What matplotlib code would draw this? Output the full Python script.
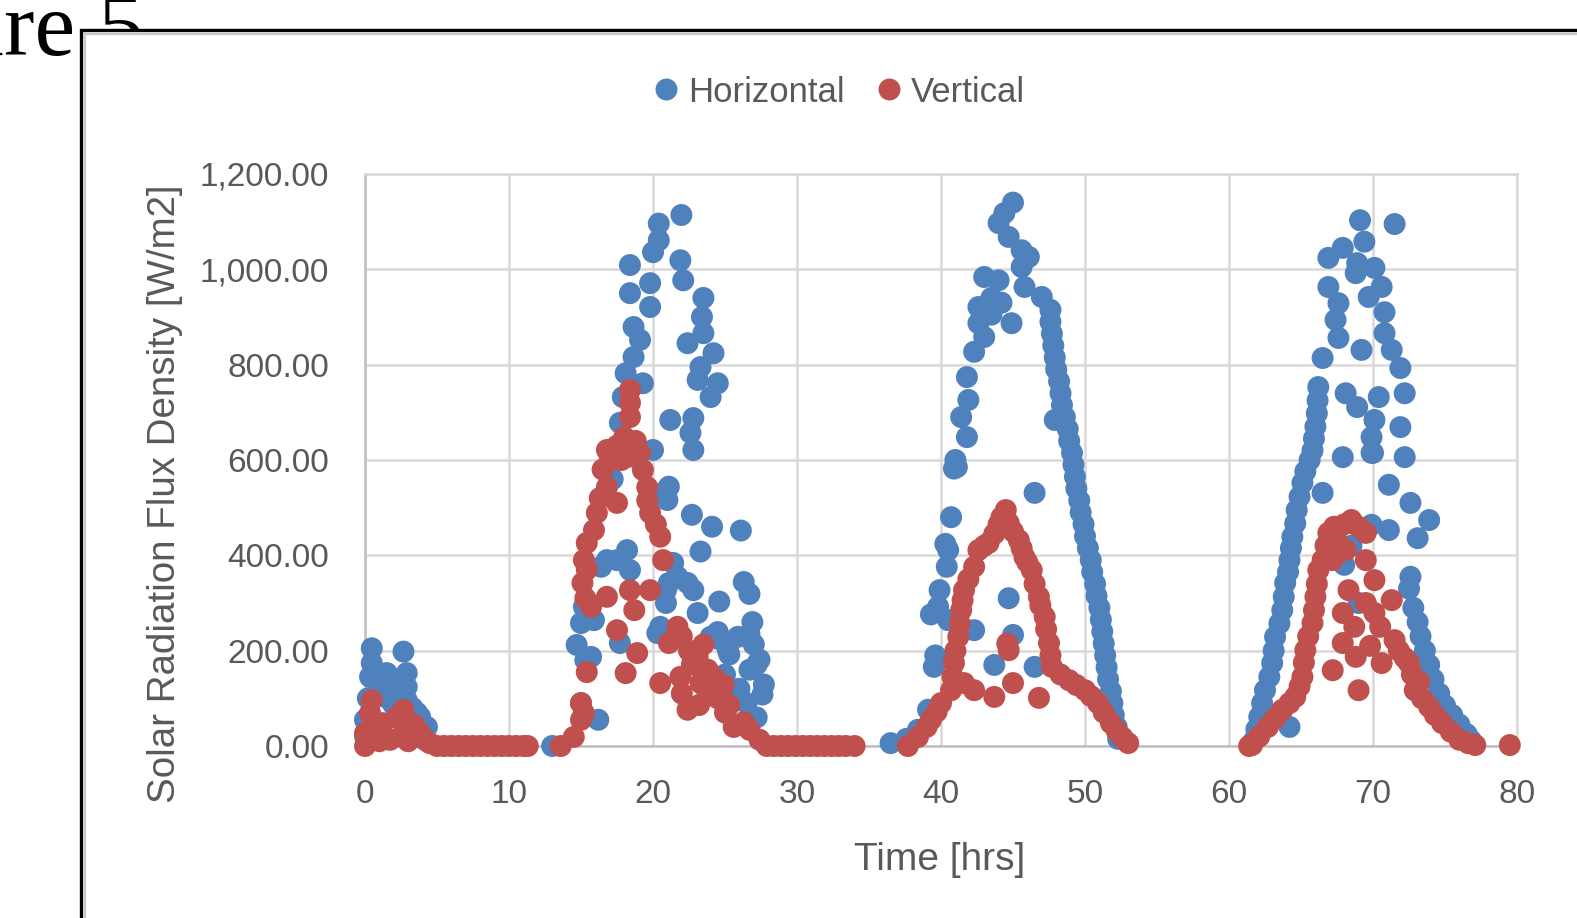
import matplotlib
matplotlib.use('Agg')
import matplotlib.pyplot as plt
import numpy as np
from matplotlib.ticker import FuncFormatter
from matplotlib.patches import Rectangle
from matplotlib.lines import Line2D

# ---------------- data (time [hrs], flux [W/m2]) ----------------
horiz_day1 = [(0.0, 20), (0.0, 55), (0.2, 100), (0.47, 205), (0.47, 174), (0.35, 145), (0.8, 150),
              (1.0, 130), (1.25, 124), (1.51, 153), (1.6, 100), (1.95, 88), (2.2, 130), (2.3, 110),
              (2.67, 198), (2.9, 153), (2.9, 124), (2.9, 96), (3.3, 80), (3.6, 70), (3.83, 61), (4.3, 40)]
vert_day1 = [(0.0, 0), (0.0, 27), (0.35, 69), (0.47, 96), (0.9, 40), (1.0, 10), (1.25, 48), (1.74, 13),
             (2.2, 60), (2.5, 20), (2.67, 76), (2.9, 40), (3.0, 10), (3.4, 45), (3.83, 27), (4.2, 12),
             (4.5, 6), (5.0, 0), (5.5, 0), (6.0, 0), (6.5, 0), (7.0, 0), (7.5, 0), (8.0, 0), (8.5, 0),
             (9.0, 0), (9.5, 0), (10.0, 0), (10.5, 0), (11.0, 0), (11.3, 0)]

horiz_day2 = [(13.0, 0), (15.0, 90), (16.2, 55), (15.7, 187), (14.7, 212), (15.0, 258), (15.2, 292),
              (15.9, 264), (15.3, 180), (16.4, 376), (16.8, 390), (17.5, 390), (18.2, 411), (18.4, 369),
              (17.7, 216), (17.2, 560), (20.5, 250), (20.3, 237), (20.9, 327), (20.9, 300), (21.1, 342),
              (21.7, 355), (21.4, 384), (22.4, 342), (22.8, 327), (23.3, 408), (23.1, 279), (24.6, 303),
              (24.5, 239), (24.0, 229), (25.2, 201), (25.9, 229), (21.0, 516), (21.1, 544), (20.4, 529),
              (22.7, 485), (24.1, 460), (26.1, 452), (20.0, 621), (22.8, 621), (22.6, 657), (22.8, 688),
              (21.2, 684), (17.7, 678), (17.9, 732), (19.3, 761), (18.1, 782), (18.65, 816), (19.1, 852),
              (18.65, 879), (19.8, 921), (18.4, 950), (19.8, 971), (18.4, 1009), (20.0, 1036), (20.4, 1061),
              (20.4, 1096), (21.97, 1114), (21.9, 1019), (22.1, 977), (23.5, 940), (23.4, 900), (23.5, 866),
              (22.4, 845), (24.2, 824), (23.3, 795), (23.1, 768), (24.5, 761), (24.0, 732), (26.3, 344),
              (26.7, 319), (26.7, 234), (27.0, 213), (27.4, 181), (26.7, 160), (27.7, 129), (25.3, 192),
              (24.6, 224), (27.6, 108), (27.2, 171), (26.9, 260), (26.0, 120), (25.0, 150), (26.5, 90),
              (27.2, 60)]
vert_day2 = [(13.6, 0), (14.5, 19), (15.0, 55), (15.2, 69), (15.0, 90), (15.4, 155), (15.3, 310), (15.1, 342),
             (15.4, 370), (15.2, 390), (15.4, 426), (15.9, 453), (16.1, 489), (16.3, 520), (16.8, 543),
             (16.5, 580), (17.0, 600), (16.8, 621), (17.5, 510), (17.8, 600), (17.5, 630), (18.0, 648),
             (18.4, 690), (18.4, 720), (18.4, 747), (18.4, 607), (18.8, 640), (19.1, 615), (19.3, 579),
             (19.6, 543), (19.6, 515), (19.8, 489), (20.2, 465), (20.5, 439), (20.7, 390), (15.7, 292),
             (16.8, 313), (18.4, 327), (19.8, 327), (18.7, 285), (17.5, 243), (18.9, 195), (18.1, 153),
             (21.7, 250), (21.1, 216), (20.5, 132), (21.9, 145), (22.4, 76), (23.1, 187), (23.3, 132),
             (24.2, 145), (24.7, 110), (25.6, 40), (23.5, 213), (22.7, 171), (23.2, 86), (24.9, 129),
             (25.3, 86), (26.0, 44), (26.7, 34), (27.4, 13), (22.0, 230), (22.5, 200), (23.8, 160),
             (24.5, 100), (25.0, 70), (22.0, 110), (23.7, 120), (26.3, 50), (27.9, 0), (28.4, 0), (28.9, 0),
             (29.4, 0), (29.9, 0), (30.4, 0), (30.9, 0), (31.4, 0), (31.9, 0), (32.4, 0), (32.9, 0),
             (33.4, 0), (34.0, 0)]

horiz_day3 = [(36.5, 6), (37.6, 15), (38.4, 34), (39.1, 76), (39.5, 166), (39.6, 190), (40.5, 264),
              (42.3, 243), (39.8, 292), (39.9, 327), (40.4, 376), (40.5, 411), (40.7, 480), (40.9, 582),
              (41.1, 585), (41.0, 600), (41.8, 648), (41.4, 690), (41.9, 726), (41.8, 774), (42.3, 827),
              (43.0, 858), (42.6, 887), (42.6, 921), (43.0, 984), (44.0, 977), (44.9, 887), (43.5, 940),
              (44.2, 930), (43.5, 905), (44.0, 1097), (44.4, 1118), (45.0, 1140), (44.7, 1068), (45.6, 1040),
              (46.1, 1026), (45.6, 1005), (45.8, 963), (47.0, 942), (47.6, 915), (47.6, 890), (47.7, 865),
              (47.8, 840), (47.9, 815), (48.0, 790), (48.2, 765), (48.3, 740), (48.4, 715), (48.6, 690),
              (48.8, 665), (48.9, 640), (49.1, 615), (49.2, 590), (49.3, 565), (49.4, 540), (49.6, 515),
              (49.7, 490), (49.9, 465), (50.0, 440), (50.2, 415), (50.4, 390), (50.5, 365), (50.7, 340),
              (50.8, 315), (51.0, 290), (51.1, 265), (51.2, 240), (51.3, 215), (51.4, 190), (51.5, 165),
              (51.6, 140), (51.8, 115), (51.9, 90), (52.0, 65), (52.2, 40), (52.3, 15), (44.7, 310),
              (45.0, 233), (43.7, 170), (46.5, 166), (46.5, 531), (47.9, 684), (39.3, 276), (40.3, 424)]
vert_day3 = [(37.7, 0), (38.4, 19), (39.0, 40), (39.3, 55), (39.7, 72), (40.0, 90), (40.7, 117), (40.8, 145),
             (40.9, 174), (41.0, 200), (41.2, 229), (41.3, 257), (41.4, 285), (41.5, 306), (41.6, 327),
             (41.9, 350), (42.3, 376), (42.6, 411), (43.0, 420), (43.3, 426), (43.7, 445), (44.0, 465),
             (44.2, 480), (44.5, 495), (44.7, 468), (45.0, 450), (45.4, 432), (45.6, 415), (45.8, 396),
             (46.0, 385), (46.3, 369), (46.5, 340), (46.8, 313), (46.9, 295), (47.2, 271), (47.3, 245),
             (47.5, 216), (47.6, 190), (47.7, 166), (48.3, 150), (48.9, 138), (49.4, 128), (50.0, 117),
             (50.4, 105), (50.9, 90), (51.3, 70), (51.8, 48), (52.2, 32), (52.6, 18), (53.0, 6),
             (41.6, 132), (42.3, 117), (43.7, 103), (44.7, 201), (45.0, 132), (46.8, 101), (44.6, 215)]

horiz_day4 = [(61.7, 10), (61.9, 35), (62.1, 61), (62.3, 90), (62.5, 117), (62.8, 145), (63.0, 174),
              (63.1, 200), (63.2, 229), (63.5, 257), (63.7, 285), (63.8, 313), (63.9, 342), (64.1, 365),
              (64.2, 390), (64.3, 415), (64.4, 439), (64.6, 467), (64.7, 495), (64.9, 523), (65.1, 552),
              (65.3, 576), (65.6, 600), (65.8, 620), (65.9, 645), (66.0, 670), (66.1, 698), (66.15, 725),
              (66.2, 753), (66.5, 814), (67.4, 894), (67.6, 856), (67.6, 929), (66.9, 963), (66.9, 1024),
              (67.9, 1045), (68.8, 992), (68.9, 1013), (69.4, 1058), (69.1, 1103), (71.5, 1095), (70.1, 1003),
              (70.6, 963), (69.7, 942), (70.8, 910), (70.8, 866), (69.2, 831), (71.3, 831), (71.9, 793),
              (72.2, 740), (68.1, 740), (68.9, 711), (70.4, 732), (70.1, 684), (71.9, 669), (69.9, 648),
              (67.9, 606), (69.9, 615), (72.2, 606), (66.5, 531), (70.0, 615), (71.1, 548), (72.6, 510),
              (73.9, 474), (71.1, 453), (69.9, 464), (73.1, 436), (72.6, 355), (72.5, 330), (72.8, 290),
              (73.1, 260), (73.3, 230), (73.6, 200), (73.9, 170), (74.2, 140), (74.6, 110), (75.0, 85),
              (75.5, 65), (76.0, 45), (76.5, 25), (76.8, 12), (64.2, 40), (68.0, 380), (69.0, 300),
              (68.5, 420)]
vert_day4 = [(61.4, 0), (61.6, 2), (62.1, 20), (62.7, 40), (63.2, 58), (63.7, 76), (64.2, 90), (64.6, 103),
             (64.9, 125), (65.1, 145), (65.2, 175), (65.3, 201), (65.5, 230), (65.8, 258), (65.9, 285),
             (66.0, 313), (66.1, 340), (66.2, 369), (66.5, 390), (66.7, 420), (66.9, 447), (67.3, 460),
             (68.0, 465), (68.5, 474), (69.0, 460), (69.5, 447), (67.5, 430), (68.1, 411), (69.5, 390),
             (67.2, 390), (68.3, 327), (70.1, 348), (71.3, 306), (67.9, 279), (70.1, 279), (71.5, 222),
             (67.9, 216), (67.2, 159), (68.8, 187), (69.0, 117), (70.6, 174), (72.5, 174), (69.5, 300),
             (70.5, 250), (68.7, 250), (69.8, 210), (71.8, 200), (72.2, 185), (72.7, 150), (72.9, 117),
             (73.2, 135), (73.4, 100), (73.9, 82), (74.3, 65), (74.8, 48), (75.4, 30), (76.0, 13),
             (76.6, 6), (77.1, 2), (79.5, 2)]

series_names = ['Horizontal', 'Vertical']
x_ticks = [0, 10, 20, 30, 40, 50, 60, 70, 80]
y_ticks = [0, 200, 400, 600, 800, 1000, 1200]

BLUE = '#4f81bd'
RED = '#c0504d'
TXT = '#595959'

horiz = np.array(horiz_day1 + horiz_day2 + horiz_day3 + horiz_day4, dtype=float)
vert = np.array(vert_day1 + vert_day2 + vert_day3 + vert_day4, dtype=float)

W, H = 1577, 918
fig = plt.figure(figsize=(W / 100, H / 100), dpi=100)
fig.patch.set_facecolor('white')

# caption text of the document, partly hidden by the chart frame
fig.text(143.5 / W, 1 - 55 / H, 'Figure 5', ha='right', va='baseline', fontsize=66,
         family='Liberation Serif', color='black', zorder=0)

# chart frame (white box with black border and grey inner shadow)
frame = Rectangle((81 / W, -0.1), 1.2, 1 - 30.5 / H + 0.1, transform=fig.transFigure,
                  facecolor='white', edgecolor='black', linewidth=2.4, zorder=0.5)
fig.patches.append(frame)
fig.lines.append(Line2D([84.5 / W, 84.5 / W], [0, 1 - 32.5 / H], transform=fig.transFigure,
                        color='#c8c8c8', linewidth=1.6, zorder=0.6))
fig.lines.append(Line2D([84.5 / W, 1], [1 - 33.5 / H, 1 - 33.5 / H], transform=fig.transFigure,
                        color='#c8c8c8', linewidth=1.6, zorder=0.6))

ax = fig.add_axes([365 / W, 1 - 746 / H, 1152 / W, 572 / H])
ax.set_zorder(1)
ax.patch.set_alpha(0)

ax.scatter(horiz[:, 0], horiz[:, 1], s=250, c=BLUE, edgecolors='none', zorder=3, clip_on=False)
ax.scatter(vert[:, 0], vert[:, 1], s=250, c=RED, edgecolors='none', zorder=4, clip_on=False)

ax.set_xlim(0, 80)
ax.set_ylim(0, 1200)
ax.set_xticks(x_ticks)
ax.set_yticks(y_ticks)
ax.yaxis.set_major_formatter(FuncFormatter(lambda v, p: f'{v:,.2f}'))
ax.tick_params(axis='both', length=0, labelsize=24, labelcolor=TXT)
ax.tick_params(axis='y', pad=26)
ax.tick_params(axis='x', pad=24)
for lab in ax.get_xticklabels() + ax.get_yticklabels():
    lab.set_family('Liberation Sans')

ax.grid(True, color='#d9d9d9', linewidth=1.8)
ax.set_axisbelow(True)
for side in ['left', 'bottom']:
    ax.spines[side].set_color('#bfbfbf')
    ax.spines[side].set_linewidth(1.8)
for side in ['top', 'right']:
    ax.spines[side].set_color('#d9d9d9')
    ax.spines[side].set_linewidth(1.8)

fig.text(165 / W, 1 - 494 / H, 'Solar Radiation Flux Density [W/m2]', rotation=90,
         ha='center', va='center', fontsize=27.7, color=TXT, family='Liberation Sans', zorder=2)
fig.text(940 / W, 1 - 860 / H, 'Time [hrs]', ha='center', va='center', fontsize=28,
         color=TXT, family='Liberation Sans', zorder=2)

handles = [Line2D([], [], linestyle='none', marker='o', markersize=15.8, color=BLUE, markeredgewidth=0),
           Line2D([], [], linestyle='none', marker='o', markersize=15.8, color=RED, markeredgewidth=0)]
leg = ax.legend(handles, series_names, loc='center', bbox_to_anchor=(839.5 / W, 1 - 92 / H),
                bbox_transform=fig.transFigure, ncol=2, frameon=False,
                prop={'family': 'Liberation Sans', 'size': 25}, handlelength=0.7,
                handletextpad=0.27, columnspacing=0.95, borderpad=0, borderaxespad=0)
for t in leg.get_texts():
    t.set_color(TXT)

fig.savefig('out.png', dpi=100, facecolor='white')
